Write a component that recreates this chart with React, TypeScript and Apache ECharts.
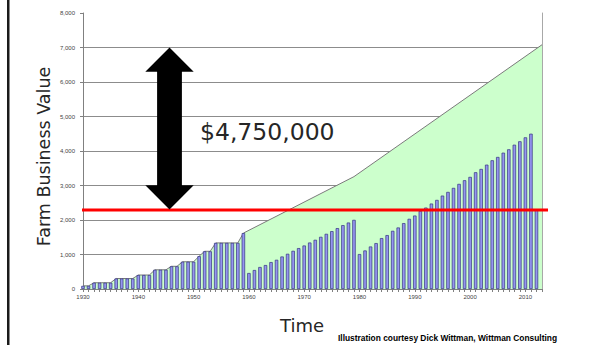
import React, { useEffect, useRef } from "react";
import * as echarts from "echarts";

const startYear = 1930;
// Farm business value (thousands of $), one bar per year 1930-2012
const barValues = [
  91, 91, 182, 182, 182, 182, 304, 304, 304, 304,
  405, 405, 405, 557, 557, 557, 658, 658, 790, 790,
  790, 952, 1093, 1093, 1336, 1336, 1336, 1336, 1336, 1620,
  463, 550, 637, 694, 780, 847, 942, 1021, 1107, 1185,
  1261, 1347, 1426, 1512, 1599, 1677, 1764, 1851, 1926, 2004,
  1012, 1117, 1232, 1330, 1475, 1562, 1686, 1783, 1909, 2034,
  2129, 2265, 2360, 2476, 2582, 2707, 2814, 2930, 3046, 3152,
  3249, 3384, 3479, 3604, 3731, 3827, 3951, 4049, 4182, 4281,
  4396, 4501, 2290,
];
// Area (potential value) follows the bars until 1959, then straight segments
const areaFollowUntil = 1959;
const areaKinkYears = [1979, 2013];
const areaKinkValues = [3257, 7080];
const redLineValue = 2290;
const arrowTopValue = 7000;
const yTicks = [0, 1000, 2000, 3000, 4000, 5000, 6000, 7000, 8000];
const xLabelYears = [1930, 1940, 1950, 1960, 1970, 1980, 1990, 2000, 2010];

export default function App() {
  const ref = useRef<HTMLDivElement>(null);
  useEffect(() => {
    if (!ref.current) return;
    const chart = echarts.init(ref.current, null, { renderer: "svg" });
    const barData = barValues.map((v, i) => [startYear + i, v]);
    const areaData: number[][] = [];
    barValues.forEach((v, i) => {
      if (startYear + i <= areaFollowUntil) areaData.push([startYear + i, v]);
    });
    areaKinkYears.forEach((y, i) => areaData.push([y, areaKinkValues[i]]));
    const gridLeft = 83;
    const gridRight = 50;
    const font = "Liberation Sans, Arial, sans-serif";
    const wide = "DejaVu Sans, Verdana, sans-serif";
    chart.setOption({
      animation: false,
      backgroundColor: "#ffffff",
      grid: { left: gridLeft, right: gridRight, top: 13, bottom: 56, containLabel: false },
      xAxis: {
        type: "value",
        min: startYear,
        max: areaKinkYears[areaKinkYears.length - 1],
        interval: 10,
        axisLine: { show: true, lineStyle: { color: "#808080", width: 1 } },
        axisTick: { show: true, length: 3, lineStyle: { color: "#808080" } },
        minorTick: { show: true, splitNumber: 10, length: 3, lineStyle: { color: "#808080" } },
        splitLine: { show: false },
        axisLabel: {
          fontSize: 6,
          color: "#444",
          fontFamily: font,
          margin: 5,
          showMaxLabel: false,
          formatter: (v: number) => (xLabelYears.includes(v) ? String(v) : ""),
        },
      },
      yAxis: [
        {
          type: "value",
          min: yTicks[0],
          max: yTicks[yTicks.length - 1],
          interval: 1000,
          axisLine: { show: true, lineStyle: { color: "#808080", width: 1 } },
          axisTick: { show: true, length: 3, lineStyle: { color: "#808080" } },
          splitLine: { show: true, showMaxLine: false, lineStyle: { color: "#8c8c8c", width: 1 } },
          axisLabel: {
            fontSize: 6,
            color: "#444",
            fontFamily: font,
            margin: 8,
            formatter: (v: number) => v.toLocaleString("en-US"),
          },
        },
        {
          type: "value",
          min: yTicks[0],
          max: yTicks[yTicks.length - 1],
          position: "right",
          axisLine: { show: true, lineStyle: { color: "#a8a8a8", width: 1 } },
          axisTick: { show: false },
          axisLabel: { show: false },
          splitLine: { show: false },
        },
      ],
      series: [
        {
          type: "line",
          data: areaData,
          showSymbol: false,
          symbol: "none",
          lineStyle: { color: "#7a7a7a", width: 1 },
          areaStyle: { color: "#ccffcc", opacity: 1 },
          z: 1,
        },
        {
          type: "bar",
          data: barData,
          barWidth: 3.4,
          itemStyle: { color: "#9595f0", borderColor: "#33337f", borderWidth: 0.7 },
          z: 2,
        },
      ],
    });

    const topY = chart.convertToPixel({ gridIndex: 0 }, [startYear, arrowTopValue])[1];
    const redY = chart.convertToPixel({ gridIndex: 0 }, [startYear, redLineValue])[1];
    const W = chart.getWidth();
    const cx = 169.5;
    const hw = 24.2;
    const sw = 12.4;
    const hh = 24.3;
    const bot = redY - 0.5;
    const top = topY;
    chart.setOption({
      graphic: [
        {
          type: "rect",
          shape: { x: 7, y: 0, width: 2.5, height: 345 },
          style: { fill: "#1a1a1a" },
          z: 100,
        },
        {
          type: "line",
          shape: { x1: gridLeft - 1, y1: redY, x2: W - gridRight + 6, y2: redY },
          style: { stroke: "#ff0000", lineWidth: 3 },
          z: 100,
        },
        {
          type: "polygon",
          shape: {
            points: [
              [cx, top],
              [cx + hw, top + hh],
              [cx + sw, top + hh],
              [cx + sw, bot - hh],
              [cx + hw, bot - hh],
              [cx, bot],
              [cx - hw, bot - hh],
              [cx - sw, bot - hh],
              [cx - sw, top + hh],
              [cx - hw, top + hh],
            ],
          },
          style: { fill: "#000000" },
          z: 101,
        },
        {
          type: "text",
          x: 200,
          y: 132,
          style: {
            text: "$4,750,000",
            font: `23.5px ${wide}`,
            fill: "#262626",
            textAlign: "left",
            textVerticalAlign: "middle",
          },
          z: 101,
        },
        {
          type: "text",
          x: 44,
          y: 156.5,
          rotation: Math.PI / 2,
          style: {
            text: "Farm Business Value",
            font: `17.5px ${wide}`,
            fill: "#262626",
            textAlign: "center",
            textVerticalAlign: "middle",
          },
          z: 101,
        },
        {
          type: "text",
          x: 302,
          y: 325,
          style: {
            text: "Time",
            font: `18px ${wide}`,
            fill: "#262626",
            textAlign: "center",
            textVerticalAlign: "middle",
          },
          z: 101,
        },
        {
          type: "text",
          x: 338,
          y: 338,
          style: {
            text: "Illustration courtesy Dick Wittman, Wittman Consulting",
            font: `bold 8.4px ${font}`,
            fill: "#000000",
            textAlign: "left",
            textVerticalAlign: "middle",
          },
          z: 101,
        },
      ],
    });
    return () => chart.dispose();
  }, []);
  return (
    <div
      ref={ref}
      style={{ position: "fixed", left: 0, top: 0, width: 592, height: 345, background: "#fff" }}
    />
  );
}
